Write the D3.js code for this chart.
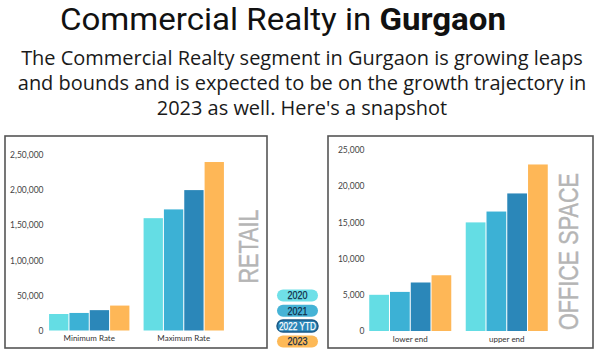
<!DOCTYPE html>
<html><head><meta charset="utf-8">
<script src="https://cdn.jsdelivr.net/npm/d3@7"></script>
<style>html,body{margin:0;padding:0;background:#fff;}svg{display:block;}</style>
</head><body>
<svg id="chart" width="600" height="357"></svg>
<script>
// ---------- DATA ----------
const years = ["2020", "2021", "2022 YTD", "2023"];
const legendLabels = ["2020", "2021", "2022 YTD", "2023"];

const retailCategories = ["Minimum Rate", "Maximum Rate"];
const retailMinimum = [23500, 25000, 29000, 35500];
const retailMaximum = [160000, 172500, 200000, 240000];
const retailTicks = [0, 50000, 100000, 150000, 200000, 250000];
const retailTickLabels = ["0", "50,000", "1,00,000", "1,50,000", "2,00,000", "2,50,000"];

const officeCategories = ["lower end", "upper end"];
const officeLower = [5000, 5400, 6700, 7700];
const officeUpper = [15000, 16500, 19000, 23000];
const officeTicks = [0, 5000, 10000, 15000, 20000, 25000];
const officeTickLabels = ["0", "5,000", "10,000", "15,000", "20,000", "25,000"];

const titleRegular = "Commercial Realty in ";
const titleBold = "Gurgaon";
const subtitleLines = [
  "The Commercial Realty segment in Gurgaon is growing leaps",
  "and bounds and is expected to be on the growth trajectory in",
  "2023 as well. Here's a snapshot"
];

// ---------- STYLE ----------
const barColors = ["#64dde4", "#3cb1d5", "#2b87b9", "#feb757"];
const pillColors = ["#6fe0e8", "#45b3d6", "#2b86b8", "#fdb957"];
const pillText = ["#0f2c47", "#0f2c47", "#ffffff", "#0f2c47"];
const pillStroke = ["none", "none", "#1b5a86", "none"];

const svg = d3.select("#chart");

// ---------- TITLE ----------
const title = svg.append("text")
  .attr("x", 60).attr("y", 30)
  .attr("fill", "#111");
const t1 = title.append("tspan").text(titleRegular)
  .attr("font-family", "Roboto, 'Liberation Sans', sans-serif")
  .attr("font-weight", 400).attr("font-size", 32);
const t2 = title.append("tspan").text(titleBold)
  .attr("font-family", "Roboto, 'Liberation Sans', sans-serif")
  .attr("font-weight", 700).attr("font-size", 32);
{
  const w = title.node().getComputedTextLength();
  const target = 446;
  if (Math.abs(w - target) > 2) title.attr("textLength", target).attr("lengthAdjust", "spacingAndGlyphs");
}

// ---------- SUBTITLE ----------
const sub = svg.append("g");
const subFont = "'Open Sans', 'Noto Sans', sans-serif";
let subSize = 21;
const subText = sub.selectAll("text").data(subtitleLines).join("text")
  .attr("x", 302).attr("y", (d, i) => 65 + i * 25)
  .attr("text-anchor", "middle")
  .attr("font-family", subFont).attr("font-size", subSize)
  .attr("fill", "#1a1a1a")
  .text(d => d);
{
  const w = subText.nodes()[0].getComputedTextLength();
  const s = Math.max(0.8, Math.min(1.2, 562 / w));
  subText.attr("font-size", subSize * s);
}

// ---------- PANELS ----------
function drawPanel(cfg) {
  const g = svg.append("g");
  g.append("rect")
    .attr("x", cfg.box[0]).attr("y", cfg.box[1])
    .attr("width", cfg.box[2]).attr("height", cfg.box[3])
    .attr("fill", "#fff").attr("stroke", "#555").attr("stroke-width", 1.6);

  const y = d3.scaleLinear().domain(cfg.domain).range(cfg.yRange);
  const x0 = d3.scaleBand().domain(cfg.categories).range(cfg.xRange)
    .paddingInner(0.15).paddingOuter(0.075);
  const x1 = d3.scaleBand().domain(years).range([0, x0.bandwidth()]).paddingInner(0.05);

  const yAxis = d3.axisLeft(y).tickValues(cfg.ticks)
    .tickFormat((d, i) => cfg.tickLabels[i]).tickSize(0).tickPadding(0);
  const ya = g.append("g").attr("transform", `translate(${cfg.axisX},0)`).call(yAxis);
  ya.select(".domain").remove();
  ya.selectAll("text").attr("font-family", "Lato, 'Open Sans', sans-serif")
    .attr("font-size", 8.5).attr("fill", "#444");

  const groups = g.selectAll("g.grp").data(cfg.categories).join("g")
    .attr("class", "grp")
    .attr("transform", d => `translate(${x0(d)},0)`);
  groups.selectAll("rect").data((d, ci) => cfg.series[ci].map((v, i) => ({ year: years[i], v, i })))
    .join("rect")
    .attr("x", d => x1(d.year)).attr("width", x1.bandwidth())
    .attr("y", d => y(d.v)).attr("height", d => y(0) - y(d.v))
    .attr("fill", d => barColors[d.i]);

  const xAxis = d3.axisBottom(x0).tickSize(0).tickPadding(5);
  const xa = g.append("g").attr("transform", `translate(0,${y(0)})`).call(xAxis);
  xa.select(".domain").remove();
  xa.selectAll("text").attr("font-family", "Lato, 'Open Sans', sans-serif")
    .attr("font-size", 8).attr("fill", "#333");

  g.append("text")
    .attr("transform", `translate(${cfg.sideLabel[0]},${cfg.sideLabel[1]}) rotate(-90)`)
    .attr("text-anchor", "middle")
    .attr("font-family", "'Liberation Sans', Arial, sans-serif")
    .attr("font-size", 27).attr("fill", "#b5b5b5")
    .attr("stroke", "#b5b5b5").attr("stroke-width", 0.4)
    .attr("textLength", cfg.sideLength).attr("lengthAdjust", "spacingAndGlyphs")
    .text(cfg.sideText);
}

drawPanel({
  box: [5, 136, 262, 212],
  domain: [0, 250000], yRange: [330.5, 155],
  xRange: [42, 231], axisX: 43.5,
  categories: retailCategories,
  series: [retailMinimum, retailMaximum],
  ticks: retailTicks, tickLabels: retailTickLabels,
  sideLabel: [257.5, 246.5], sideText: "RETAIL", sideLength: 74
});

drawPanel({
  box: [328, 136, 265, 212],
  domain: [0, 25000], yRange: [331, 150],
  xRange: [362, 555], axisX: 364.5,
  categories: officeCategories,
  series: [officeLower, officeUpper],
  ticks: officeTicks, tickLabels: officeTickLabels,
  sideLabel: [577.5, 251.5], sideText: "OFFICE SPACE", sideLength: 157
});

// ---------- LEGEND ----------
const leg = svg.append("g");
const pills = leg.selectAll("g").data(legendLabels).join("g")
  .attr("transform", (d, i) => `translate(277,${289.5 + i * 15.3})`);
pills.append("rect")
  .attr("width", 41).attr("height", 12).attr("rx", 6).attr("ry", 6)
  .attr("fill", (d, i) => pillColors[i])
  .attr("stroke", (d, i) => pillStroke[i]).attr("stroke-width", 1.5);
pills.append("text")
  .attr("x", 20.5).attr("y", 9.8).attr("text-anchor", "middle")
  .attr("font-family", "'Liberation Sans', Arial, sans-serif")
  .attr("font-size", 11)
  .attr("fill", (d, i) => pillText[i])
  .attr("stroke", (d, i) => pillText[i]).attr("stroke-width", 0.25)
  .text(d => d)
  .each(function (d) {
    const el = d3.select(this);
    const w = this.getComputedTextLength();
    const target = d.length > 4 ? 37 : 20;
    el.attr("textLength", Math.min(w, target)).attr("lengthAdjust", "spacingAndGlyphs");
  });
</script>
</body></html>
